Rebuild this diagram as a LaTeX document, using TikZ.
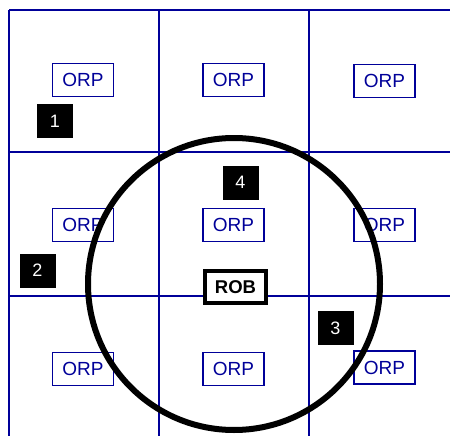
\documentclass[tikz,border=0pt]{standalone}
\usepackage{fontspec}
\setmainfont{Liberation Sans}
\definecolor{gridblue}{HTML}{000099}
\begin{document}
\begin{tikzpicture}[x=1pt,y=-1pt,
  gridline/.style={draw=gridblue, line width=2.5pt},
  orp/.style={draw=gridblue, line width=1.5pt, fill=white, text=gridblue,
    minimum width=61pt, minimum height=33pt, inner sep=0pt,
    font=\fontsize{19}{19}\selectfont},
  num/.style={fill=black, text=white, minimum width=36pt, minimum height=34pt,
    inner sep=0pt, font=\fontsize{18}{18}\selectfont},
  rob/.style={draw=black, line width=4.5pt, fill=white,
    font=\bfseries\fontsize{18.5}{18.5}\selectfont,
    minimum width=61pt, minimum height=32pt, inner sep=0pt},
  rangecircle/.style={draw=black, line width=6pt}]
\useasboundingbox (0,0) rectangle (450,436);
% grid
\foreach \yy in {10,152,296} \draw[gridline] (9,\yy) -- (450,\yy);
\foreach \xx in {9,159,309} \draw[gridline] (\xx,10) -- (\xx,436);
% ORP boxes
\node[orp] (o11) at (83,80) {ORP};
\node[orp] (o12) at (233.5,80) {ORP};
\node[orp] (o13) at (384.5,81) {ORP};
\node[orp] (o21) at (83,225) {ORP};
\node[orp] (o22) at (233.5,225) {ORP};
\node[orp] (o23) at (384.5,225) {ORP};
\node[orp] (o31) at (83,369) {ORP};
\node[orp] (o32) at (233.5,369) {ORP};
\node[orp] (o33) at (384.5,367.5) {ORP};
% range circle
\draw[rangecircle] (234,284) circle[radius=146];
% robot
\node[rob] (rob) at (235.5,287) {ROB};
% numbered markers
\node[num] (n1) at (55,121) {1};
\node[num] (n2) at (37.5,270.5) {2};
\node[num] (n3) at (335.5,328) {3};
\node[num] (n4) at (240.5,182.5) {4};
\end{tikzpicture}
\end{document}
